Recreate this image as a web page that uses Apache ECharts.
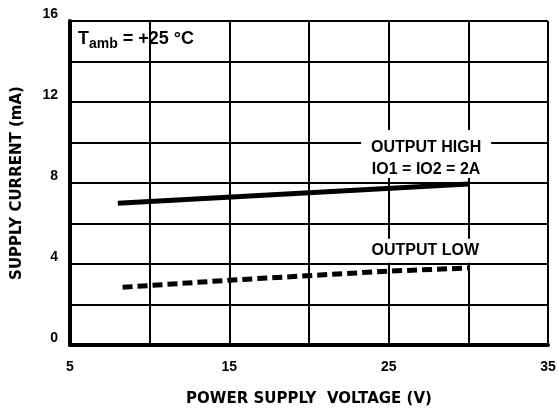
<!DOCTYPE html>
<html>
<head>
<meta charset="utf-8">
<script src="https://cdn.jsdelivr.net/npm/echarts@6/dist/echarts.min.js"></script>
<style>
  html, body { margin: 0; padding: 0; background: #fff; }
  #chart { width: 558px; height: 412px; }
</style>
</head>
<body>
<div id="chart"></div>
<script>
// supply voltage (V) / supply current (mA)
const highVolts = [8, 30]
const highCurrent = [7.0, 7.95]
const lowVolts = [8.3, 15, 25, 30]
const lowCurrent = [2.85, 3.2, 3.65, 3.8]
const xTickLabels = [5, 15, 25, 35]
const yTickLabels = [0, 4, 8, 12, 16]

const pairs = (xs, ys) => xs.map((x, i) => [x, ys[i]])

const chart = echarts.init(document.getElementById('chart'))
const font = 'Liberation Sans, Arial, sans-serif'
const titleFont = 'DejaVu Sans, sans-serif'

const option = {
  animation: false,
  backgroundColor: '#fff',
  grid: { left: 70, right: 10, top: 21, bottom: 67, containLabel: false, outerBoundsMode: 'none' },
  xAxis: {
    type: 'value',
    min: 5,
    max: 35,
    interval: 5,
    name: 'POWER SUPPLY  VOLTAGE (V)',
    nameLocation: 'middle',
    nameGap: 47,
    nameTextStyle: { color: '#000', fontFamily: titleFont, fontWeight: 'bold', fontSize: 15 },
    axisLine: { show: true, lineStyle: { color: '#000', width: 4 } },
    axisTick: { show: false },
    splitLine: { show: true, lineStyle: { color: '#000', width: 2 } },
    axisLabel: {
      color: '#000',
      fontFamily: font,
      fontWeight: 'bold',
      fontSize: 14,
      margin: 15,
      formatter: v => (xTickLabels.includes(v) ? String(v) : '')
    }
  },
  yAxis: {
    type: 'value',
    min: 0,
    max: 16,
    interval: 2,
    name: 'SUPPLY CURRENT (mA)',
    nameLocation: 'middle',
    nameGap: 45,
    nameTextStyle: { color: '#000', fontFamily: titleFont, fontWeight: 'bold', fontSize: 15 },
    axisLine: { show: true, lineStyle: { color: '#000', width: 4 } },
    axisTick: { show: false },
    splitLine: { show: true, lineStyle: { color: '#000', width: 2 } },
    axisLabel: {
      color: '#000',
      fontFamily: font,
      fontWeight: 'bold',
      fontSize: 14,
      margin: 12,
      verticalAlign: 'bottom',
      formatter: v => (yTickLabels.includes(v) ? String(v) : '')
    }
  },
  series: [
    {
      name: 'OUTPUT HIGH',
      type: 'line',
      data: pairs(highVolts, highCurrent),
      symbol: 'none',
      lineStyle: { color: '#000', width: 5 },
      markPoint: {
        silent: true,
        data: [
          {
            coord: [27.35, 9.43],
            symbol: 'rect',
            symbolSize: [130, 48],
            itemStyle: { color: '#fff' },
            label: {
              show: true,
              offset: [0, 5],
              formatter: 'OUTPUT HIGH\nIO1 = IO2 = 2A',
              color: '#000',
              fontFamily: font,
              fontWeight: 'bold',
              fontSize: 16,
              lineHeight: 22
            }
          },
          {
            coord: [5.5, 15.1],
            symbol: 'rect',
            symbolSize: 0,
            label: {
              show: true,
              position: 'right',
              distance: 0,
              formatter: '{t|T}{s|amb}{t| = +25 °C}',
              rich: {
                t: { color: '#000', fontFamily: font, fontWeight: 'bold', fontSize: 18 },
                s: { color: '#000', fontFamily: font, fontWeight: 'bold', fontSize: 14, padding: [9, 0, 0, 0] }
              }
            }
          }
        ]
      }
    },
    {
      name: 'OUTPUT LOW',
      type: 'line',
      data: pairs(lowVolts, lowCurrent),
      symbol: 'none',
      lineStyle: { color: '#000', width: 5, type: [10, 5] },
      markPoint: {
        silent: true,
        data: [
          {
            coord: [27.3, 4.66],
            symbol: 'rect',
            symbolSize: [128, 24],
            itemStyle: { color: '#fff' },
            label: {
              show: true,
              formatter: 'OUTPUT LOW',
              color: '#000',
              fontFamily: font,
              fontWeight: 'bold',
              fontSize: 16
            }
          }
        ]
      }
    }
  ]
}
chart.setOption(option)
</script>
</body>
</html>
